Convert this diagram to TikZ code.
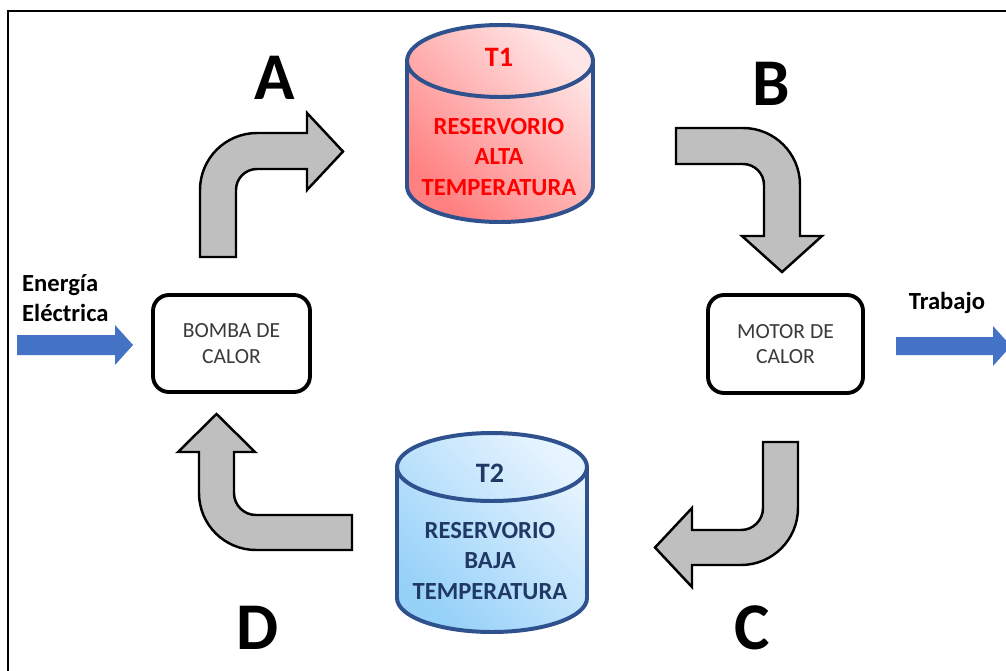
\documentclass[tikz,border=0pt]{standalone}
\usepackage{fontspec}
\setmainfont{Carlito}
\definecolor{cylblue}{HTML}{2F528F}
\definecolor{arrowblue}{HTML}{4472C4}
\definecolor{arrowgray}{HTML}{BFBFBF}
\definecolor{hotred}{HTML}{FF0000}
\definecolor{coldnavy}{HTML}{1F3864}
\definecolor{boxtext}{HTML}{3A3A3A}
\definecolor{redlight}{HTML}{FFE6E6}
\definecolor{reddark}{HTML}{FF8080}
\definecolor{bluelight}{HTML}{E6F4FF}
\definecolor{bluedark}{HTML}{96D1F8}
\begin{document}
\begin{tikzpicture}[x=0.03cm,y=-0.03cm,
  graybend/.style={fill=arrowgray, draw=black, line width=2.1pt, line join=miter},
  bluearrow/.style={fill=arrowblue, draw=none},
  letter/.style={font=\fontsize{57}{57}\selectfont\bfseries, inner sep=0pt},
  cylshape/.style={draw=cylblue, line width=3.4pt},
  cyltitle/.style={font=\fontsize{24}{24}\selectfont\bfseries, inner sep=0pt},
  cyltext/.style={font=\fontsize{21}{26}\selectfont\bfseries, align=center, inner sep=0pt},
  procbox/.style={draw=black, line width=3.3pt, rounded corners=0.48cm, fill=white,
    font=\fontsize{18.4}{21.5}\selectfont, text=boxtext, align=center},
  sidelabel/.style={font=\fontsize{21}{25.5}\selectfont\bfseries, inner sep=0pt}
]
\useasboundingbox (0,0) rectangle (1006,671);
\clip (0,0) rectangle (1006,671);
\fill[white] (0,0) rectangle (1006,671);

% frame (left and top edges)
\draw[line width=2.4pt, black] (8,675) -- (8,11) -- (1010,11);

% ---------- T1 cylinder ----------
\shadedraw[cylshape, top color=redlight, bottom color=reddark, shading angle=-45]
  (407,61) -- (407,186) .. controls (407,205.9) and (448.6,222) .. (500,222)
  .. controls (551.4,222) and (593,205.9) .. (593,186) -- (593,61)
  .. controls (593,41.1) and (551.4,25) .. (500,25)
  .. controls (448.6,25) and (407,41.1) .. (407,61) -- cycle;
\draw[draw=cylblue, line width=3.4pt]
  (407,61) .. controls (407,80.9) and (448.6,97) .. (500,97)
  .. controls (551.4,97) and (593,80.9) .. (593,61);
\node[cyltitle, text=hotred] (t1) at (499,57) {T1};
\node[cyltext, text=hotred] (t1text) at (499,157) {RESERVORIO\\ALTA\\TEMPERATURA};

% ---------- T2 cylinder ----------
\shadedraw[cylshape, top color=bluelight, bottom color=bluedark, shading angle=-45]
  (397,467) -- (397,598) .. controls (397,616.8) and (439.5,632) .. (492,632)
  .. controls (544.5,632) and (587,616.8) .. (587,598) -- (587,467)
  .. controls (587,448.2) and (544.5,433) .. (492,433)
  .. controls (439.5,433) and (397,448.2) .. (397,467) -- cycle;
\draw[draw=cylblue, line width=3.4pt]
  (397,467) .. controls (397,485.8) and (439.5,501) .. (492,501)
  .. controls (544.5,501) and (587,485.8) .. (587,467);
\node[cyltitle, text=coldnavy] (t2) at (490,473) {T2};
\node[cyltext, text=coldnavy] (t2text) at (490,561) {RESERVORIO\\BAJA\\TEMPERATURA};

% ---------- process boxes ----------
\node[procbox, minimum width=4.71cm, minimum height=2.91cm] (bomba) at (231.5,343.5) {BOMBA DE\\CALOR};
\node[procbox, minimum width=4.65cm, minimum height=2.94cm] (motor) at (785.5,344) {MOTOR DE\\CALOR};

% ---------- bent gray arrows ----------
% A
\draw[graybend] (200,257) -- (200,190) .. controls (200,158.5) and (225.5,133) .. (257,133)
  -- (307,133) -- (307,113) -- (343,151.5) -- (307,190) -- (307,169) -- (257,169)
  .. controls (245.4,169) and (236,178.4) .. (236,190) -- (236,257) -- cycle;
% B
\draw[graybend] (676,128) -- (743,128) .. controls (774.5,128) and (800,153.5) .. (800,185)
  -- (800,236) -- (822,236) -- (782,272) -- (742,236) -- (764,236) -- (764,185)
  .. controls (764,173.4) and (754.6,164) .. (743,164) -- (676,164) -- cycle;
% C
\draw[graybend] (763,442) -- (798,442) -- (798,508) .. controls (798,539.5) and (772.5,565) .. (741,565)
  -- (692,565) -- (692,587) -- (655,547.5) -- (692,508) -- (692,530) -- (741,530)
  .. controls (753.2,530) and (763,520.2) .. (763,508) -- cycle;
% D
\draw[graybend] (352,515) -- (256,515) .. controls (243.8,515) and (234,505.2) .. (234,493)
  -- (234,452) -- (255,452) -- (216.5,414) -- (178,452) -- (199,452) -- (199,493)
  .. controls (199,524.5) and (224.5,550) .. (256,550) -- (352,550) -- cycle;

% ---------- letters ----------
\node[letter] (la) at (275,78) {A};
\node[letter] (lb) at (771,84) {B};
\node[letter] (lc) at (752,628) {C};
\node[letter] (ld) at (258,628) {D};

% ---------- input / output ----------
\node[sidelabel, align=left, anchor=west] (energia) at (22,298) {Energía\\Eléctrica};
\fill[bluearrow] (17,335) -- (115,335) -- (115,325) -- (133,345) -- (115,365) -- (115,355) -- (17,355) -- cycle;
\node[sidelabel] (trabajo) at (947,303) {Trabajo};
\fill[bluearrow] (896,337) -- (993,337) -- (993,326) -- (1011,346) -- (993,366) -- (993,355) -- (896,355) -- cycle;
\end{tikzpicture}
\end{document}
